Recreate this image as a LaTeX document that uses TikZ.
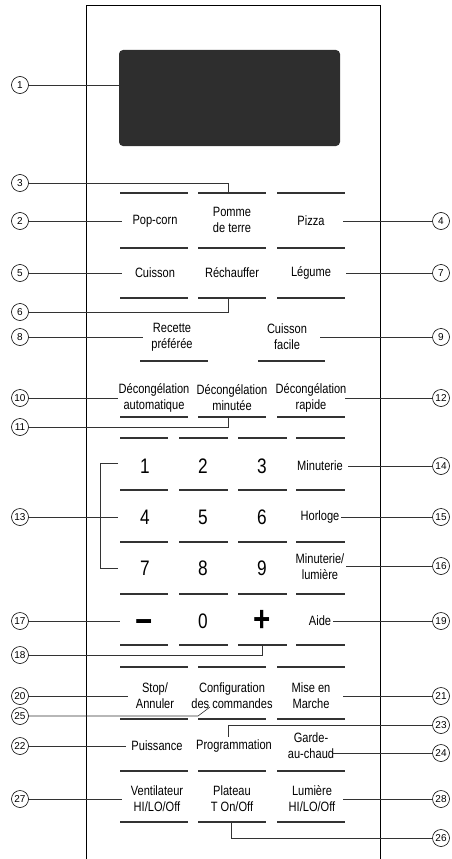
\documentclass[tikz,border=0pt]{standalone}
\usepackage{fontspec}
\setmainfont{Liberation Sans}
\newfontfamily\condf{Liberation Sans}[FakeStretch=0.82]
\begin{document}
\begin{tikzpicture}[x=1pt,y=-1pt,
  panel/.style={line width=1pt,black},
  bar/.style={line width=2.8pt,black!80},
  leader/.style={line width=0.6pt,black!80},
  callout/.style={circle,draw,line width=0.6pt,minimum size=17pt,inner sep=0,font=\fontsize{10}{10}\selectfont},
  lbl/.style={font=\condf\fontsize{13.5}{16}\selectfont,align=center,inner sep=0},
  dig/.style={font=\condf\fontsize{21}{21}\selectfont,inner sep=0},
  sym/.style={font=\condf\bfseries\fontsize{36}{36}\selectfont,inner sep=0}]
\useasboundingbox (0,0) rectangle (451,859);
% panel
\draw[panel] (86,859) -- (86,6) -- (380,6) -- (380,859);
% display
\node[fill=black!82,rounded corners=4pt,minimum width=221pt,minimum height=96pt,inner sep=0] (disp) at (229.5,98) {};
% bars
\foreach \y in {193,248,298,417,667,719,771,822}{
  \draw[bar] (120,\y) -- (188,\y);
  \draw[bar] (198,\y) -- (266,\y);
  \draw[bar] (277,\y) -- (345,\y);}
\foreach \y in {438,490,542,594,645}{
  \draw[bar] (120,\y) -- (168,\y);
  \draw[bar] (179,\y) -- (228,\y);
  \draw[bar] (238,\y) -- (287,\y);
  \draw[bar] (296,\y) -- (345,\y);}
\draw[bar] (140,361) -- (208,361);
\draw[bar] (258,361) -- (325,361);
% labels
\node[lbl] (popcorn) at (155,221) {Pop-corn};
\node[lbl] (pomme) at (232,220) {Pomme\\de terre};
\node[lbl] (pizza) at (311,221) {Pizza};
\node[lbl] (cuisson) at (155,273) {Cuisson};
\node[lbl] (rechauf) at (232,273) {Réchauffer};
\node[lbl] (legume) at (311,273) {Légume};
\node[lbl] (recette) at (172,337) {Recette\\préférée};
\node[lbl] (facile) at (287,337) {Cuisson\\facile};
\node[lbl] (decauto) at (154,398) {Décongélation\\automatique};
\node[lbl] (decmin) at (232,398) {Décongélation\\minutée};
\node[lbl] (decrap) at (311,398) {Décongélation\\rapide};
\node[dig] (d1) at (145,466) {1};
\node[dig] (d2) at (203,466) {2};
\node[dig] (d3) at (262,466) {3};
\node[lbl] (minut) at (320,466) {Minuterie};
\node[dig] (d4) at (145,517) {4};
\node[dig] (d5) at (203,517) {5};
\node[dig] (d6) at (262,517) {6};
\node[lbl] (horloge) at (320,517) {Horloge};
\node[dig] (d7) at (145,568) {7};
\node[dig] (d8) at (203,568) {8};
\node[dig] (d9) at (262,568) {9};
\node[lbl] (minlum) at (320,567) {Minuterie/\\lumière};
\node[sym] (moins) at (144,626.5) {−};
\node[dig] (d0) at (203,621) {0};
\node[sym] (plus) at (262,621) {+};
\node[lbl] (aide) at (320,621) {Aide};
\node[lbl] (stop) at (155,696) {Stop/\\Annuler};
\node[lbl] (config) at (232,696) {Configuration\\des commandes};
\node[lbl] (mise) at (311,696) {Mise en\\Marche};
\node[lbl] (puiss) at (157,746) {Puissance};
\node[lbl] (prog) at (234,746) {Programmation};
\node[lbl] (garde) at (311,746) {Garde-\\au-chaud};
\node[lbl] (venti) at (157,799) {Ventilateur\\HI/LO/Off};
\node[lbl] (plateau) at (232,799) {Plateau\\T On/Off};
\node[lbl] (lumiere) at (312,799) {Lumière\\HI/LO/Off};
% callouts left
\node[callout] (c1) at (20,85) {1};
\node[callout] (c3) at (20,183) {3};
\node[callout] (c2) at (20,221) {2};
\node[callout] (c5) at (20,273) {5};
\node[callout] (c6) at (20,312) {6};
\node[callout] (c8) at (20,337) {8};
\node[callout] (c10) at (20,398) {10};
\node[callout] (c11) at (20,427) {11};
\node[callout] (c13) at (20,517) {13};
\node[callout] (c17) at (20,621) {17};
\node[callout] (c18) at (20,655) {18};
\node[callout] (c20) at (20,696) {20};
\node[callout] (c25) at (20,716) {25};
\node[callout] (c22) at (20,746) {22};
\node[callout] (c27) at (20,799) {27};
% callouts right
\node[callout] (c4) at (441,221) {4};
\node[callout] (c7) at (441,273) {7};
\node[callout] (c9) at (441,337) {9};
\node[callout] (c12) at (441,398) {12};
\node[callout] (c14) at (441,466) {14};
\node[callout] (c15) at (441,517) {15};
\node[callout] (c16) at (441,566) {16};
\node[callout] (c19) at (441,621) {19};
\node[callout] (c21) at (441,696) {21};
\node[callout] (c23) at (441,725) {23};
\node[callout] (c24) at (441,753) {24};
\node[callout] (c28) at (441,799) {28};
\node[callout] (c26) at (441,838) {26};
% leader end points
\coordinate (e2) at (122,221);
\coordinate (e3) at (228,192);
\coordinate (e4) at (343,221);
\coordinate (e5) at (122,273);
\coordinate (e6) at (228,299);
\coordinate (e7) at (346,273);
\coordinate (e8) at (143,337);
\coordinate (e9) at (320,337);
\coordinate (e10) at (118,398);
\coordinate (e11) at (228,418);
\coordinate (e12) at (345,398);
\coordinate (e13) at (118,517);
\coordinate (b13a) at (118,463);
\coordinate (b13b) at (118,568);
\coordinate (e14) at (348,466);
\coordinate (e15) at (341,517);
\coordinate (e16) at (346,566);
\coordinate (e17) at (120,621);
\coordinate (e18) at (262,646);
\coordinate (e19) at (333,621);
\coordinate (e20) at (128,696);
\coordinate (e21) at (343,696);
\coordinate (k25) at (198,716);
\coordinate (e25) at (210,707);
\coordinate (e22) at (126,746);
\coordinate (e23) at (228,737);
\coordinate (e24) at (333,753);
\coordinate (e27) at (122,799);
\coordinate (e28) at (343,799);
\coordinate (e26) at (231,823);
% leaders
\draw[leader] (c1) -- (c1 -| disp.west);
\draw[leader] (c2) -- (e2);
\draw[leader] (c3) -| (e3);
\draw[leader] (e4) -- (c4);
\draw[leader] (c5) -- (e5);
\draw[leader] (c6) -| (e6);
\draw[leader] (e7) -- (c7);
\draw[leader] (c8) -- (e8);
\draw[leader] (e9) -- (c9);
\draw[leader] (c10) -- (e10);
\draw[leader] (c11) -| (e11);
\draw[leader] (e12) -- (c12);
\draw[leader] (c13) -- (e13);
\draw[leader] (b13a) -- (100,463) -- (100,568) -- (b13b);
\draw[leader] (e14) -- (c14);
\draw[leader] (e15) -- (c15);
\draw[leader] (e16) -- (c16);
\draw[leader] (c17) -- (e17);
\draw[leader] (c18) -| (e18);
\draw[leader] (e19) -- (c19);
\draw[leader] (c20) -- (e20);
\draw[leader] (e21) -- (c21);
\draw[leader] (c25) -- (k25) -- (e25);
\draw[leader] (c22) -- (e22);
\draw[leader] (c23) -| (e23);
\draw[leader] (e24) -- (c24);
\draw[leader] (c27) -- (e27);
\draw[leader] (e28) -- (c28);
\draw[leader] (c26) -| (e26);
\end{tikzpicture}
\end{document}
